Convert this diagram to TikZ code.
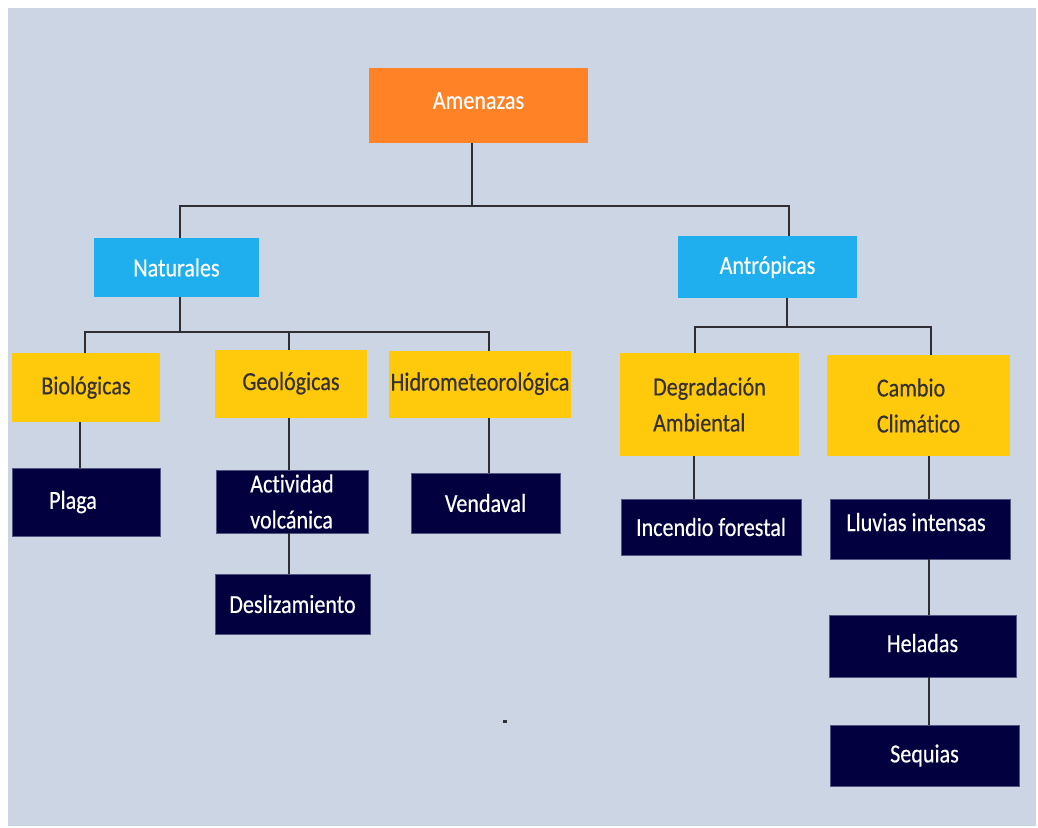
\documentclass[tikz,border=0pt]{standalone}
\usepackage{fontspec}
\setmainfont[FakeStretch=0.85, FakeBold=0.35, Ligatures=NoCommon]{Carlito}
\definecolor{bgc}{HTML}{CBD5E4}
\definecolor{orangebox}{HTML}{FF8226}
\definecolor{bluebox}{HTML}{1FAFEF}
\definecolor{yellowbox}{HTML}{FFC90C}
\definecolor{navybox}{HTML}{03003F}
\definecolor{wirec}{HTML}{2E2E33}
\tikzset{
  box/.style={inner sep=0pt, font=\fontsize{26}{36}\selectfont},
  topbox/.style={box, fill=orangebox, text=white},
  catbox/.style={box, fill=bluebox, text=white},
  subbox/.style={box, fill=yellowbox, text=black!92!yellow},
  leafbox/.style={box, fill=navybox, draw=navybox!60!bgc, line width=0.8pt, text=white},
  wire/.style={draw=wirec, line width=1.6pt}
}
\begin{document}
\begin{tikzpicture}[x=1pt,y=-1pt]
\useasboundingbox (0,0) rectangle (1038,827);
\fill[white] (0,0) rectangle (1038,827);
\fill[bgc] (8,8) rectangle (1036,826);
% level 0 and 1
\node[topbox, minimum width=219pt, minimum height=75pt] (amen) at (478.5,105.5) {\raisebox{10pt}{Amenazas}};
\node[catbox, minimum width=165pt, minimum height=59pt] (nat) at (176.5,267.5) {Naturales};
\node[catbox, minimum width=179pt, minimum height=62pt] (antr) at (767.5,267) {Antrópicas};
% level 2
\node[subbox, minimum width=148pt, minimum height=69pt] (bio) at (86,387.5) {Biológicas};
\node[subbox, minimum width=152pt, minimum height=68pt] (geo) at (291,384) {\raisebox{6pt}{Geológicas}};
\node[subbox, minimum width=182pt, minimum height=67pt] (hidro) at (480,384.5) {\raisebox{6pt}{Hidrometeorológica}};
\node[subbox, minimum width=179pt, minimum height=103pt, align=left] (degr) at (709.5,404.5) {Degradación\\Ambiental};
\node[subbox, minimum width=183pt, minimum height=101pt, align=left] (camb) at (918.5,405.5) {Cambio\\Climático};
% level 3
\node[leafbox, minimum width=148pt, minimum height=68pt] (plaga) at (86,502) {Plaga\hspace*{26pt}};
\node[leafbox, minimum width=152pt, minimum height=63pt, align=left] (activ) at (292,501.5) {Actividad\\volcánica};
\node[leafbox, minimum width=155pt, minimum height=60pt] (desl) at (292.5,604) {Deslizamiento};
\node[leafbox, minimum width=149pt, minimum height=60pt] (vend) at (485.5,503) {Vendaval};
\node[leafbox, minimum width=180pt, minimum height=56pt] (incen) at (711,527) {Incendio forestal};
\node[leafbox, minimum width=180pt, minimum height=60pt] (lluv) at (920,529) {\raisebox{14pt}{Lluvias intensas}\hspace*{8pt}};
\node[leafbox, minimum width=187pt, minimum height=62pt] (hel) at (922.5,646) {\raisebox{6pt}{Heladas}};
\node[leafbox, minimum width=189pt, minimum height=61pt] (seq) at (924.5,755.5) {Sequias};
% buses
\draw[wire] (amen.south -| 472,0) -- (472,206);
\draw[wire] (nat.north -| 180,0) |- (789,206) -- (antr.north -| 789,0);
\draw[wire] (nat.south -| 180,0) -- (180,332);
\draw[wire] (bio.north -| 85,0) |- (489,332) -- (hidro.north -| 489,0);
\draw[wire] (geo.north -| 289,0) -- (289,332);
\draw[wire] (antr.south -| 787,0) -- (787,327);
\draw[wire] (degr.north -| 695,0) |- (931,327) -- (camb.north -| 931,0);
% single drops
\foreach \p/\c/\x in {bio/plaga/80, geo/activ/289, activ/desl/289, hidro/vend/489,
                      degr/incen/694, camb/lluv/929, lluv/hel/929, hel/seq/929} {
  \draw[wire] (\p.south -| \x,0) -- (\c.north -| \x,0);
}
\fill[wirec] (503,719.5) rectangle (507,723);
\end{tikzpicture}
\end{document}
